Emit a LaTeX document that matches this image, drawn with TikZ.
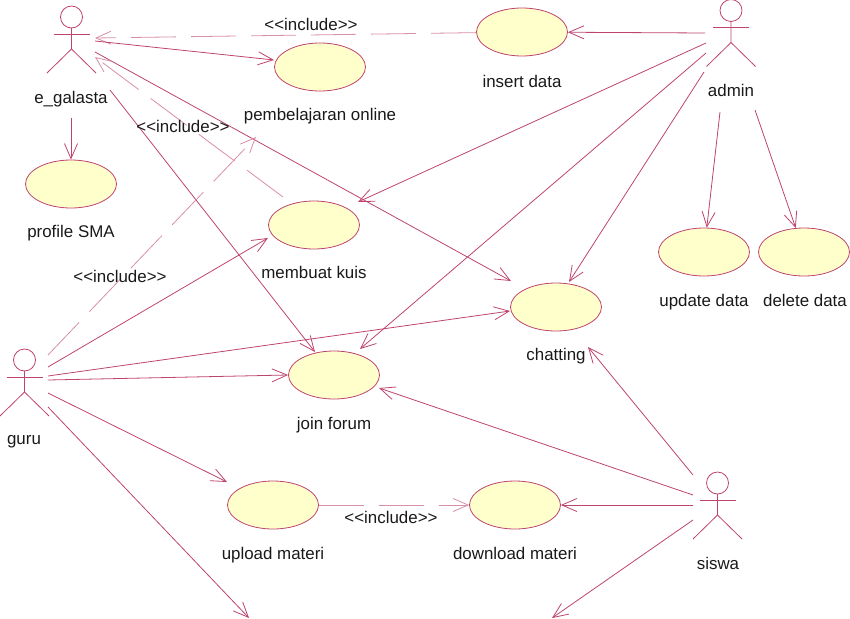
\documentclass[tikz,border=0pt]{standalone}
\usepackage{fontspec}
\setmainfont{Liberation Sans}
\usetikzlibrary{shapes.geometric, arrows.meta}
\definecolor{umlline}{RGB}{190,68,110}
\definecolor{umlfill}{RGB}{255,255,204}
\tikzstyle{usecase} = [ellipse, minimum width=91pt, minimum height=48pt, inner sep=0pt, draw=umlline, fill=umlfill, line width=0.8pt]
\tikzstyle{lbl} = [font=\fontsize{16.9}{20}\selectfont, text=black!90, inner sep=0pt, text height=12pt, text depth=0pt]
\tikzstyle{arrow} = [umlline, line width=0.8pt, -{Straight Barb[length=15pt,width=13pt,line width=0.8pt]}]
\tikzstyle{incl} = [arrow, draw=umlline!60, dash pattern=on 45pt off 15pt]
\tikzstyle{actorline} = [umlline, line width=0.8pt]
% stick figure: #1 name, #2 x of the body, #3 y of the head centre
\newcommand{\actorfig}[3]{
  \draw [actorline] (#2,#3) circle (11);
  \draw [actorline] (#2,#3+11) -- (#2,#3+32) -- (#2-24.5,#3+56);
  \draw [actorline] (#2,#3+32) -- (#2+24.5,#3+56);
  \draw [actorline] (#2-18,#3+17) -- (#2+18,#3+17);
  \coordinate (#1) at (#2,#3);
}
\begin{document}
\begin{tikzpicture}[x=1pt, y=-1pt]
        \useasboundingbox (0,0) rectangle (850,618);
        % actors
        \actorfig{e_galasta}{71.5}{17}
        \actorfig{admin}{731}{10.5}
        \actorfig{guru}{24.5}{360}
        \actorfig{siswa}{717.5}{483}
        \node [lbl] (e_galasta_lbl) at (71,97) {e\_galasta};
        \node [lbl] (admin_lbl) at (731,90) {admin};
        \node [lbl] (guru_lbl) at (24,438) {guru};
        \node [lbl] (siswa_lbl) at (718,563) {siswa};
        % use cases
        \node (insert) [usecase] at (522,32) {};
        \node (online) [usecase] at (320,67) {};
        \node (profile) [usecase] at (71,184) {};
        \node (kuis) [usecase] at (314,225) {};
        \node (update) [usecase] at (704,252) {};
        \node (delete) [usecase] at (804,252) {};
        \node (chatting) [usecase] at (556,307) {};
        \node (forum) [usecase] at (334,375) {};
        \node (upload) [usecase] at (273,505) {};
        \node (download) [usecase] at (515,505) {};
        \node [lbl] (insert_lbl) at (522,81) {insert data};
        \node [lbl] (online_lbl) at (320,114) {pembelajaran online};
        \node [lbl] (profile_lbl) at (71,231) {profile SMA};
        \node [lbl] (kuis_lbl) at (314,272) {membuat kuis};
        \node [lbl] (update_lbl) at (704,300) {update data};
        \node [lbl] (delete_lbl) at (805,300) {delete data};
        \node [lbl] (chatting_lbl) at (556,354) {chatting};
        \node [lbl] (forum_lbl) at (334,423) {join forum};
        \node [lbl] (upload_lbl) at (273,553) {upload materi};
        \node [lbl] (download_lbl) at (515,553) {download materi};
        % free line ends
        \coordinate (e1) at (95,38);
        \coordinate (e2) at (95,41);
        \coordinate (e3) at (95,52);
        \coordinate (e4) at (95,57);
        \coordinate (e5) at (110,90);
        \coordinate (e6) at (71,118);
        \coordinate (a1) at (705,33);
        \coordinate (a2) at (706,43);
        \coordinate (a3) at (706,53);
        \coordinate (a4) at (704,72);
        \coordinate (a5) at (720,112);
        \coordinate (a6) at (755,110);
        \coordinate (g1) at (48,355);
        \coordinate (g2) at (48,367);
        \coordinate (g3) at (48,376);
        \coordinate (g4) at (48,380);
        \coordinate (g5) at (48,393);
        \coordinate (g6) at (48,407);
        \coordinate (g7) at (249,618);
        \coordinate (o1) at (256,137);
        \coordinate (s1) at (693,475);
        \coordinate (s2) at (693,495);
        \coordinate (s3) at (693,505);
        \coordinate (s4) at (693,520);
        \coordinate (s5) at (552,618);
        \coordinate (c1) at (588,347);
        % arrow tips off the ellipse outline
        \coordinate (chat_e) at (511,281);
        \coordinate (chat_g) at (510,311);
        \coordinate (chat_a) at (569,282);
        \coordinate (kuis_a) at (358,202);
        \coordinate (kuis_g) at (268,238);
        \coordinate (kuis_d) at (283,197);
        \coordinate (forum_e) at (315,352);
        \coordinate (forum_a) at (360,349);
        \coordinate (forum_g) at (288,375);
        \coordinate (forum_s) at (379,388);
        \coordinate (upload_g) at (227,482);
        \coordinate (online_e) at (274,60);
        % connectors
        \draw [incl] (insert) -- (e1);
        \draw [arrow] (e2) -- (online_e);
        \draw [arrow] (e3) -- (chat_e);
        \draw [incl] (kuis_d) -- (e4);
        \draw [arrow] (e5) -- (forum_e);
        \draw [arrow] (e6) -- (profile);
        \draw [arrow] (a1) -- (insert);
        \draw [arrow] (a2) -- (kuis_a);
        \draw [arrow] (a3) -- (forum_a);
        \draw [arrow] (a4) -- (chat_a);
        \draw [arrow] (a5) -- (update);
        \draw [arrow] (a6) -- (delete);
        \draw [incl] (g1) -- (o1);
        \draw [arrow] (g2) -- (kuis_g);
        \draw [arrow] (g3) -- (chat_g);
        \draw [arrow] (g4) -- (forum_g);
        \draw [arrow] (g5) -- (upload_g);
        \draw [arrow] (g6) -- (g7);
        \draw [incl] (upload) -- (download);
        \draw [arrow] (s1) -- (c1);
        \draw [arrow] (s2) -- (forum_s);
        \draw [arrow] (s3) -- (download);
        \draw [arrow] (s4) -- (s5);
        % include labels
        \node [lbl] (incl1) at (311,25) {<{}<include>{}>};
        \node [lbl] (incl2) at (183,126) {<{}<include>{}>};
        \node [lbl] (incl3) at (120,276) {<{}<include>{}>};
        \node [lbl] (incl4) at (391,517) {<{}<include>{}>};
\end{tikzpicture}
\end{document}
